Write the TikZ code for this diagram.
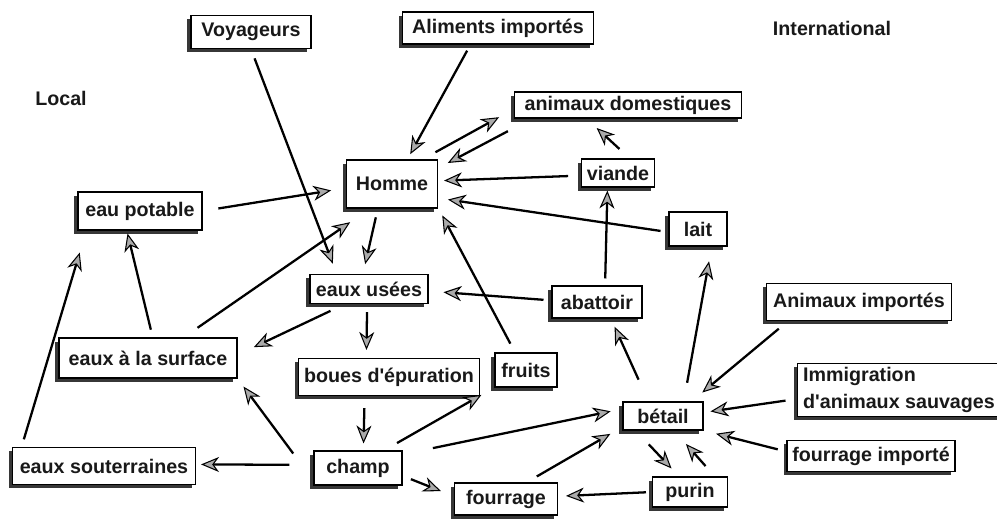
\documentclass[tikz,border=0pt]{standalone}
\usepackage{fontspec}
\setmainfont{Liberation Sans}
\usetikzlibrary{
  arrows.meta,
  shadows
}
\definecolor{boxshadow}{RGB}{55, 55, 55}
\definecolor{tipfill}{RGB}{170, 170, 170}
\tikzset{
boxtext/.style={
  font=\bfseries\fontsize{11.2}{15}\selectfont,
  text=black!90
},
boxsize/.style 2 args={
  minimum width=#1*0.02cm,
  minimum height=#2*0.02cm
},
flowbox/.style={
  draw,
  line width=0.6pt,
  fill=white,
  inner xsep=3pt,
  inner ysep=1pt,
  drop shadow={shadow xshift=-2pt, shadow yshift=-2pt, fill=boxshadow, opacity=1},
  boxtext
},
regionlabel/.style={
  boxtext
},
flowarrow/.style={
  -{Stealth[length=3.6mm,width=3mm,inset=1.1mm,fill=tipfill,line width=0.6pt]},
  line width=1.3pt
},
gap/.style 2 args={
  shorten <=#1*0.02cm,
  shorten >=#2*0.02cm
}
}
\begin{document}
\begin{tikzpicture}[x=0.02cm, y=-0.02cm]
  \useasboundingbox (0,0) rectangle (997,518);
  \node[regionlabel] (local) at (61,98) {Local};
  \node[regionlabel] (international) at (832,28) {International};

  \node[flowbox, boxsize={120}{33}] (voyageurs) at (251,32) {Voyageurs};
  \node[flowbox, boxsize={191}{32}] (aliments) at (498,28) {Aliments importés};
  \node[flowbox, boxsize={227}{26}] (animdom) at (628,105) {animaux domestiques};
  \node[flowbox, boxsize={91}{48}] (homme) at (392,184) {Homme};
  \node[flowbox, boxsize={70}{28}] (viande) at (618,173) {viande};
  \node[flowbox, boxsize={124}{38}] (eaupotable) at (140,211) {eau potable};
  \node[flowbox, boxsize={58}{34}] (lait) at (698,229) {lait};
  \node[flowbox, boxsize={118}{29}] (eauxusees) at (369,289) {eaux usées};
  \node[flowbox, boxsize={90}{32}] (abattoir) at (597,302) {abattoir};
  \node[flowbox, boxsize={185}{37}] (animimp) at (859,302) {Animaux importés};
  \node[flowbox, boxsize={178}{40}] (surface) at (148,358) {eaux à la surface};
  \node[flowbox, boxsize={181}{37}] (boues) at (389,377) {boues d\textquotesingle épuration};
  \node[flowbox, boxsize={62}{34}] (fruits) at (526,370) {fruits};
  \node[flowbox, boxsize={197}{53}, align=left] (immigration) at (899,390)
    {Immigration\\d\textquotesingle animaux sauvages};
  \node[flowbox, boxsize={80}{28}] (betail) at (663,416) {bétail};
  \node[flowbox, boxsize={164}{31}] (fourimp) at (871,456) {fourrage importé};
  \node[flowbox, boxsize={183}{37}] (souterraines) at (104,466) {eaux souterraines};
  \node[flowbox, boxsize={88}{34}] (champ) at (358,468) {champ};
  \node[flowbox, boxsize={103}{32}] (fourrage) at (506,499) {fourrage};
  \node[flowbox, boxsize={75}{30}] (purin) at (690,492) {purin};

  % flows
  \draw[flowarrow, gap={10}{11}] (voyageurs.south) -- (eauxusees.155);
  \draw[flowarrow, gap={7}{6}] (aliments.211) -- (homme.58);
  \draw[flowarrow, gap={15}{17}] (homme.39) -- (animdom.182);
  \draw[flowarrow, gap={27}{11}] (animdom.188) -- (homme.19);
  \draw[flowarrow, gap={14}{14}] (viande.51) -- (animdom.198);
  \draw[flowarrow, gap={13}{6}] (viande.184) -- (homme.4);
  \draw[flowarrow, gap={8}{10}] (lait.186) -- (homme.-17);
  \draw[flowarrow, gap={16}{15}] (eaupotable.east) -- (homme.185);
  \draw[flowarrow, gap={9}{10}] (homme.240) -- (eauxusees.112);
  \draw[flowarrow, gap={10}{9}] (fruits.122) -- (homme.333);
  \draw[flowarrow, gap={17}{24}] (surface.30) -- (homme.228);
  \draw[flowarrow, gap={8}{3}] (surface.77) -- (eaupotable.236);
  \draw[flowarrow, gap={8}{23}] (souterraines.167) -- (eaupotable.200);
  \draw[flowarrow, gap={16}{18}] (eauxusees.212) -- (surface.2);
  \draw[flowarrow, gap={8}{8}] (eauxusees.263) -- (boues.140);
  \draw[flowarrow, gap={8}{15}] (abattoir.178) -- (eauxusees.358);
  \draw[flowarrow, gap={7}{3}] (abattoir.64) -- (viande.234);
  \draw[flowarrow, gap={12}{7}] (boues.218) -- (champ.73);
  \draw[flowarrow, gap={15}{15}] (champ.34) -- (fruits.209);
  \draw[flowarrow, gap={34}{10}] (champ.196) -- (surface.south east);
  \draw[flowarrow, gap={24}{5}] (champ.176) -- (souterraines.1);
  \draw[flowarrow, gap={31}{12}] (champ.17) -- (betail.170);
  \draw[flowarrow, gap={9}{14}] (champ.350) -- (fourrage.177);
  \draw[flowarrow, gap={12}{14}] (fourrage.39) -- (betail.195);
  \draw[flowarrow, gap={6}{8}] (purin.west) -- (fourrage.3);
  \draw[flowarrow, gap={19}{11}] (betail.208) -- (purin.125);
  \draw[flowarrow, gap={14}{18}] (purin.32) -- (betail.307);
  \draw[flowarrow, gap={24}{9}] (betail.135) -- (abattoir.310);
  \draw[flowarrow, gap={19}{15}] (betail.35) -- (lait.308);
  \draw[flowarrow, gap={12}{14}] (animimp.195) -- (betail.27);
  \draw[flowarrow, gap={12}{7}] (immigration.185) -- (betail.5);
  \draw[flowarrow, gap={9}{13}] (fourimp.177) -- (betail.south east);
\end{tikzpicture}
\end{document}
